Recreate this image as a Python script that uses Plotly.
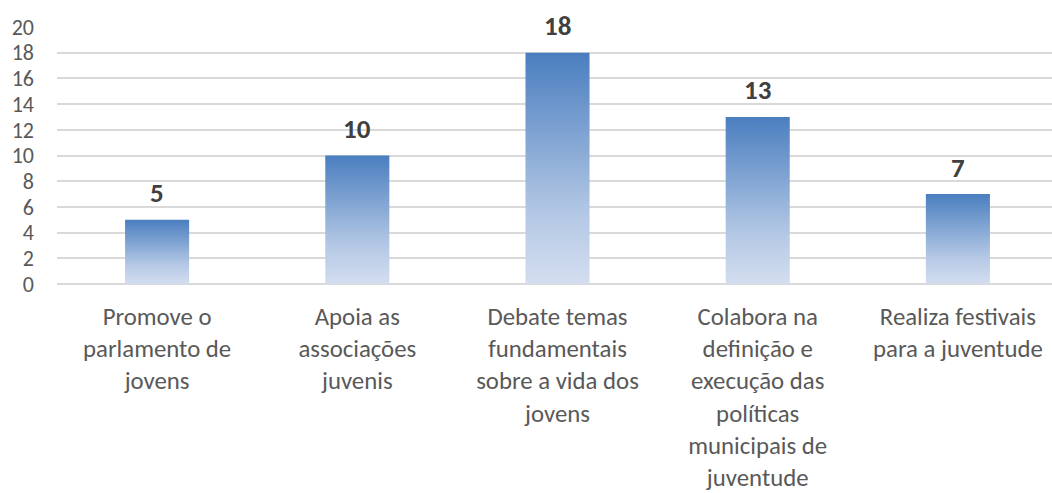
import plotly.graph_objects as go

categories = [
    "Promove o<br>parlamento de<br>jovens",
    "Apoia as<br>associações<br>juvenis",
    "Debate temas<br>fundamentais<br>sobre a vida dos<br>jovens",
    "Colabora na<br>definição e<br>execução das<br>políticas<br>municipais de<br>juventude",
    "Realiza festivais<br>para a juventude",
]
values = [5, 10, 18, 13, 7]
y_ticks = [0, 2, 4, 6, 8, 10, 12, 14, 16, 18, 20]

FONT = "Carlito, Lato, sans-serif"
bar_half = 0.16
gradient = [[0, "#d3deef"], [0.3, "#b4c8e5"], [1, "#4a7ebf"]]

fig = go.Figure()
for i, v in enumerate(values):
    fig.add_trace(go.Scatter(
        x=[i - bar_half, i + bar_half, i + bar_half, i - bar_half, i - bar_half],
        y=[0, 0, v, v, 0],
        mode="lines",
        line=dict(width=0),
        fill="toself",
        fillgradient=dict(type="vertical", colorscale=gradient),
        hoverinfo="skip",
        showlegend=False,
    ))
    fig.add_annotation(
        x=i, y=v, text=f"<b>{v}</b>", showarrow=False,
        yshift=27, font=dict(family=FONT, size=27, color="#404040"),
    )

fig.update_layout(
    width=1052, height=493,
    margin=dict(l=57, r=0, t=27, b=209),
    paper_bgcolor="white", plot_bgcolor="white",
    font=dict(family=FONT, color="#595959"),
    xaxis=dict(
        range=[-0.5, 4.47],
        tickvals=list(range(len(categories))),
        ticktext=categories,
        tickfont=dict(family=FONT, size=24.8, color="#595959"),
        showgrid=False, zeroline=False, showline=False,
        ticks="", ticklabelstandoff=15, automargin=False,
    ),
    yaxis=dict(
        range=[0, 20],
        tickvals=y_ticks,
        tickfont=dict(family=FONT, size=22, color="#595959"),
        showgrid=True, gridcolor="#d9d9d9", gridwidth=1.5,
        zeroline=True, zerolinecolor="#d9d9d9", zerolinewidth=1.5,
        ticks="", ticklabelstandoff=22, automargin=False,
    ),
)

fig.write_html(
    "out.html",
    config={"displayModeBar": False},
    post_script="document.body.style.margin='0';document.body.style.overflow='hidden';",
)
